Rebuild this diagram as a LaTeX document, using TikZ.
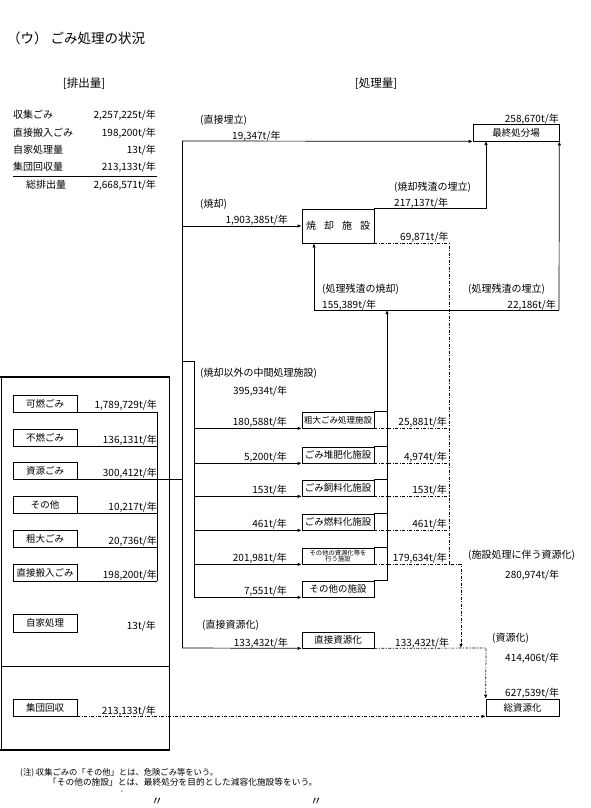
\documentclass[tikz,border=0pt]{standalone}
\usepackage{fontspec}
\setmainfont{Noto Sans CJK JP}
\usetikzlibrary{arrows.meta}
\begin{document}
\begin{tikzpicture}[x=1pt,y=-1pt,
  ln/.style={line width=0.7pt},
  dd/.style={line width=0.7pt, dash pattern=on 3pt off 1.5pt on 1pt off 1.5pt},
  arr/.style={-{Latex[length=4pt,width=3.4pt]}},
  fbox/.style={draw, line width=0.7pt, inner sep=0pt, minimum width=72pt, minimum height=16pt, font=\fontsize{9.5}{10}\selectfont},
  lbox/.style={draw, line width=0.7pt, inner sep=0pt, minimum width=64pt, minimum height=17pt, font=\fontsize{9.5}{10}\selectfont},
  lab/.style={inner sep=0pt, font=\fontsize{10}{11}\selectfont},
  labw/.style={lab, anchor=west},
  labe/.style={lab, anchor=east}]
\useasboundingbox (0,0) rectangle (590,808);

% title and headers
\node[anchor=west, inner sep=0pt, font=\fontsize{13.5}{15}\selectfont] (title) at (7,38) {（ウ） ごみ処理の状況};
\node[lab, font=\fontsize{11.5}{12}\selectfont] (hdrA) at (84,84) {[排出量]};
\node[lab, font=\fontsize{11.5}{12}\selectfont] (hdrB) at (376,84) {[処理量]};

% emission table
\node[labw] (e1) at (13,115) {収集ごみ};
\node[labe] (e1v) at (156,115) {2,257,225t/年};
\node[labw] (e2) at (13,133) {直接搬入ごみ};
\node[labe] (e2v) at (156,133) {198,200t/年};
\node[labw] (e3) at (13,150) {自家処理量};
\node[labe] (e3v) at (156,150) {13t/年};
\node[labw] (e4) at (13,167) {集団回収量};
\node[labe] (e4v) at (156,167) {213,133t/年};
\node[labw] (e5) at (26,185) {総排出量};
\node[labe] (e5v) at (156,185) {2,668,571t/年};
\coordinate (ulL) at (13,176);
\coordinate (ulR) at (157,176);
\draw[ln] (ulL) -- (ulR);

% boxes on the right
\node[fbox, minimum width=86pt, minimum height=17pt] (final) at (516,132.5) {最終処分場};
\node[fbox, minimum height=34pt, font=\fontsize{10}{10}\selectfont] (incin) at (338,226) {焼\hspace{8pt}却\hspace{8pt}施\hspace{8pt}設};
\node[fbox, font=\fontsize{8.5}{9}\selectfont] (sodai) at (338,420) {粗大ごみ処理施設};
\node[fbox] (taihi) at (338,455) {ごみ堆肥化施設};
\node[fbox] (shiryo) at (338,488) {ごみ飼料化施設};
\node[fbox] (nenryo) at (338,522) {ごみ燃料化施設};
\node[fbox, font=\fontsize{6.3}{6.8}\selectfont, align=center] (shigen) at (338,556) {その他の資源化等を\\行う施設};
\node[fbox] (sonota) at (338,589) {その他の施設};
\node[fbox] (chok) at (338,640) {直接資源化};
\node[fbox, minimum width=73pt, minimum height=17pt] (total) at (522.5,707.5) {総資源化};

% left boxes
\draw[ln] (1,377) rectangle (169,750);
\draw[line width=1.8pt] (0,377) -- (170,377);
\draw[line width=1.8pt] (0,750) -- (170,750);
\draw[ln] (1,666) -- (169,666);
\node[lbox] (kanen) at (45,403.5) {可燃ごみ};
\node[lbox] (funen) at (45,437.5) {不燃ごみ};
\node[lbox] (shigenL) at (45,470.5) {資源ごみ};
\node[lbox] (sonotaL) at (45,504.5) {その他};
\node[lbox] (sodaiL) at (45,538.5) {粗大ごみ};
\node[lbox] (chokuL) at (45,572.5) {直接搬入ごみ};
\node[lbox, minimum height=18pt] (jika) at (45,623) {自家処理};
\node[lbox] (shudan) at (45,707.5) {集団回収};

\node[labe] (v1) at (157,405) {1,789,729t/年};
\node[labe] (v2) at (157,440) {136,131t/年};
\node[labe] (v3) at (157,473) {300,412t/年};
\node[labe] (v4) at (157,507) {10,217t/年};
\node[labe] (v5) at (157,541) {20,736t/年};
\node[labe] (v6) at (157,575) {198,200t/年};
\node[labe] (v7) at (156,626) {13t/年};
\node[labe] (v8) at (156,711) {213,133t/年};

\coordinate (vX) at (157,412);
\foreach \b in {kanen,funen,shigenL,sonotaL,sodaiL,chokuL}
  \draw[ln] (\b.south east) -- (\b.south east -| vX);
\draw[ln] (kanen.south east -| vX) -- (chokuL.south east -| vX);

% trunk
\coordinate (tTop) at (182,141);
\coordinate (tJog) at (182,361);
\coordinate (tBot) at (182,648);
\coordinate (jX) at (194,361);
\draw[ln] (tTop) -- (tBot);
\draw[ln] (shigenL.south east -| vX) -- (shigenL.south east -| tTop);
\draw[ln] (tJog) -- (jX) -- (jX |- sonota.south);

% direct landfill
\draw[ln,arr] (tTop) -- (final.south west);
\node[labw] (l1) at (200,120) {(直接埋立)};
\node[labw] (l1v) at (232,136) {19,347t/年};
\node[labe] (l1t) at (559,119) {258,670t/年};

% incineration
\draw[ln,arr] (tTop |- incin.west) -- (incin.west);
\node[labw] (l2) at (200,204) {(焼却)};
\node[labe] (l2v) at (288,220) {1,903,385t/年};

\coordinate (fIn) at (486,141);
\draw[ln,arr] (incin.north east) -| (fIn);
\node[labw] (l3) at (394,187) {(焼却残渣の埋立)};
\node[labw] (l3v) at (394,203) {217,137t/年};

\node[labw] (l4v) at (400,237) {69,871t/年};

% residue line
\coordinate (rL) at (314,310);
\coordinate (rR) at (559,310);
\coordinate (cX) at (387,310);
\draw[ln] (rL) -- (rR);
\draw[ln,arr] (rL) -- (rL |- incin.south);
\draw[ln,arr] (rR) -- (final.south east);
\draw[ln,arr] (cX |- sonota.north) -- (cX);
\node[labw] (l5) at (322,289) {(処理残渣の焼却)};
\node[labw] (l5v) at (322,305) {155,389t/年};
\node[labw] (l6) at (468,289) {(処理残渣の埋立)};
\node[labe] (l6v) at (556,305) {22,186t/年};

% intermediate processing
\node[labw] (l7) at (200,373) {(焼却以外の中間処理施設)};
\node[labw] (l7v) at (233,391) {395,934t/年};

\foreach \b in {sodai,taihi,shiryo,nenryo,shigen,sonota}{
  \draw[ln,arr] (\b.south west -| jX) -- (\b.south west);
  \draw[ln] (\b.north east) -- (\b.north east -| cX);
}
\node[labe] (r1) at (287,422) {180,588t/年};
\node[labe] (r2) at (287,457) {5,200t/年};
\node[labe] (r3) at (287,490) {153t/年};
\node[labe] (r4) at (287,524) {461t/年};
\node[labe] (r5) at (287,558) {201,981t/年};
\node[labe] (r6) at (287,591) {7,551t/年};

% resource recovery (dash-dot)
\coordinate (dBot) at (449,564);
\draw[dd] (incin.south east) -| (dBot);
\foreach \b in {sodai,taihi,shiryo,nenryo}
  \draw[dd] (\b.south east) -- (\b.south east -| dBot);
\coordinate (eX) at (461,648);
\draw[dd,arr] (shigen.south east) -| (eX);
\node[labe] (s1) at (447,422) {25,881t/年};
\node[labe] (s2) at (447,457) {4,974t/年};
\node[labe] (s3) at (447,490) {153t/年};
\node[labe] (s4) at (447,524) {461t/年};
\node[labe] (s5) at (447,558) {179,634t/年};
\node[labw] (l8) at (468,555) {(施設処理に伴う資源化)};
\node[labw] (l8v) at (505,575) {280,974t/年};

% direct recycling
\draw[ln,arr] (tBot) -- (chok.south west);
\node[labw] (l9) at (202,625) {(直接資源化)};
\node[labe] (l9v) at (288,643) {133,432t/年};
\node[labw] (l9w) at (395,643) {133,432t/年};
\coordinate (gX) at (486,648);
\draw[dd,arr] (chok.south east) -- (gX) -- (total.north west);
\node[labw] (l10) at (492,638) {(資源化)};
\node[labw] (l10v) at (505,658) {414,406t/年};
\node[labw] (l11v) at (505,693) {627,539t/年};

% group collection
\draw[dd,arr] (shudan.south east) -- (total.south west);

% notes
\node[anchor=west, inner sep=0pt, font=\fontsize{8.3}{9}\selectfont] (n1) at (20,773) {(注) 収集ごみの「その他」とは、危険ごみ等をいう。};
\node[anchor=west, inner sep=0pt, font=\fontsize{8.7}{9}\selectfont] (n2) at (48,782) {「その他の施設」とは、最終処分を目的とした減容化施設等をいう。};
\node[inner sep=0pt, font=\fontsize{7}{7}\selectfont] (m1) at (122,792) {-};
\node[inner sep=0pt, font=\fontsize{12}{12}\selectfont] (m2) at (157,802) {〃};
\node[inner sep=0pt, font=\fontsize{12}{12}\selectfont] (m3) at (316,802) {〃};
\end{tikzpicture}
\end{document}
